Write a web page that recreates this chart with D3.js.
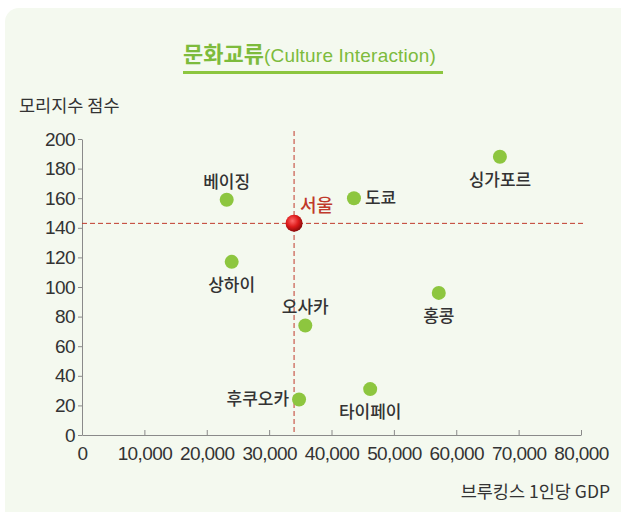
<!DOCTYPE html>
<html>
<head>
<meta charset="utf-8">
<script src="https://cdn.jsdelivr.net/npm/d3@7"></script>
<style>
body { margin: 0; background: #fff; }
text { font-family: "Liberation Sans", Arial, sans-serif; }
.kr { font-family: "Noto Sans CJK KR", sans-serif; }
</style>
</head>
<body>
<div id="chart"></div>
<script>
const width = 621
const height = 512
const margin = { top: 140, right: 40, bottom: 77, left: 82 }

const cities = ["베이징", "서울", "도쿄", "싱가포르", "상하이", "홍콩", "오사카", "후쿠오카", "타이페이"]
const gdp = [23200, 34000, 43600, 67000, 24000, 57200, 35800, 34800, 46200]
const mori = [159, 143, 160, 188, 117, 96, 74, 24, 31]
const xTicks = [0, 10000, 20000, 30000, 40000, 50000, 60000, 70000, 80000]
const yTicks = [0, 20, 40, 60, 80, 100, 120, 140, 160, 180, 200]
// where each label sits relative to its dot
const labelPos = ["above", "seoul", "right", "below", "below", "below", "above", "left", "below"]

const data = cities.map((c, i) => ({ city: c, gdp: gdp[i], mori: mori[i], pos: labelPos[i] }))

const svg = d3.select("div#chart").append("svg").attr("width", width).attr("height", height)

const defs = svg.append("defs")
const grad = defs.append("radialGradient").attr("id", "redBall").attr("cx", "40%").attr("cy", "35%").attr("r", "65%")
grad.append("stop").attr("offset", "0%").attr("stop-color", "#ff6a6a")
grad.append("stop").attr("offset", "55%").attr("stop-color", "#dd1a1a")
grad.append("stop").attr("offset", "100%").attr("stop-color", "#8a0a0a")

// panel background
svg.append("rect").attr("x", 5).attr("y", 8).attr("width", 640).attr("height", 540)
    .attr("rx", 14).attr("fill", "#f4f9ef")

// title
const title = svg.append("text").attr("x", 183).attr("y", 62)
title.append("tspan").attr("class", "kr").attr("font-size", 22).attr("font-weight", "bold")
    .attr("fill", "#7dbb3c").text("문화교류")
title.append("tspan").attr("font-size", 19).attr("letter-spacing", 0.2)
    .attr("fill", "#7dbb3c").text("(Culture Interaction)")
svg.append("rect").attr("x", 183).attr("y", 71).attr("width", 260).attr("height", 3).attr("fill", "#8cc63f")

const x = d3.scaleLinear().domain([0, 80000]).range([margin.left, width - margin.right])
const y = d3.scaleLinear().domain([0, 200]).range([height - margin.bottom, 139])

const xAxis = d3.axisBottom(x).tickValues(xTicks).tickSizeInner(-5).tickSizeOuter(0)
    .tickPadding(9).tickFormat(d3.format(","))
const yAxis = d3.axisLeft(y).tickValues(yTicks).tickSizeInner(4).tickSizeOuter(0).tickPadding(3)

const xAxisGroup = svg.append("g").attr("transform", `translate(0, ${y(0)})`).call(xAxis)
const yAxisGroup = svg.append("g").attr("transform", `translate(${x(0)}, 0)`).call(yAxis)

;[xAxisGroup, yAxisGroup].forEach(g => {
    g.select(".domain").attr("stroke", "#8a8a8a")
    g.selectAll(".tick line").attr("stroke", "#8a8a8a")
    g.selectAll(".tick text").attr("fill", "#333").attr("font-size", 19)
        .attr("letter-spacing", -0.6).attr("font-family", "Liberation Sans")
})
xAxisGroup.selectAll(".tick text").attr("dy", "0.85em")

svg.append("text").attr("class", "kr").attr("x", 19).attr("y", 112).attr("font-size", 17.5)
    .attr("fill", "#333").text("모리지수 점수")
svg.append("text").attr("class", "kr").attr("x", 610).attr("y", 498).attr("font-size", 17.5)
    .attr("text-anchor", "end").attr("fill", "#333").text("브루킹스 1인당 GDP")

// reference lines through Seoul
const seoul = data.find(d => d.city === "서울")
svg.append("line").attr("x1", x(0)).attr("x2", 583).attr("y1", y(seoul.mori)).attr("y2", y(seoul.mori))
    .attr("stroke", "#c0392b").attr("stroke-dasharray", "5,3").attr("stroke-width", 1)
svg.append("line").attr("x1", x(seoul.gdp)).attr("x2", x(seoul.gdp)).attr("y1", 131).attr("y2", y(0))
    .attr("stroke", "#c0392b").attr("stroke-dasharray", "5,3").attr("stroke-width", 1)

const elementGroup = svg.append("g")
const elements = elementGroup.selectAll("g.pt").data(data).enter().append("g").attr("class", "pt")

elements.append("circle")
    .attr("cx", d => x(d.gdp))
    .attr("cy", d => y(d.mori))
    .attr("r", d => d.city === "서울" ? 8.5 : 7)
    .attr("fill", d => d.city === "서울" ? "url(#redBall)" : "#8dc63f")

const off = {
    above: [0, -18, "middle"],
    below: [0, 23, "middle"],
    right: [11, 0, "start"],
    left: [-10, 0, "end"],
    seoul: [6, -18, "start"],
}
elements.append("text").attr("class", "kr")
    .attr("x", d => x(d.gdp) + off[d.pos][0])
    .attr("y", d => y(d.mori) + off[d.pos][1])
    .attr("dy", "0.35em")
    .attr("text-anchor", d => off[d.pos][2])
    .attr("font-size", d => d.city === "서울" ? 18 : 17)
    .attr("font-weight", 500)
    .attr("fill", d => d.city === "서울" ? "#c0392b" : "#333")
    .text(d => d.city)
</script>
</body>
</html>
